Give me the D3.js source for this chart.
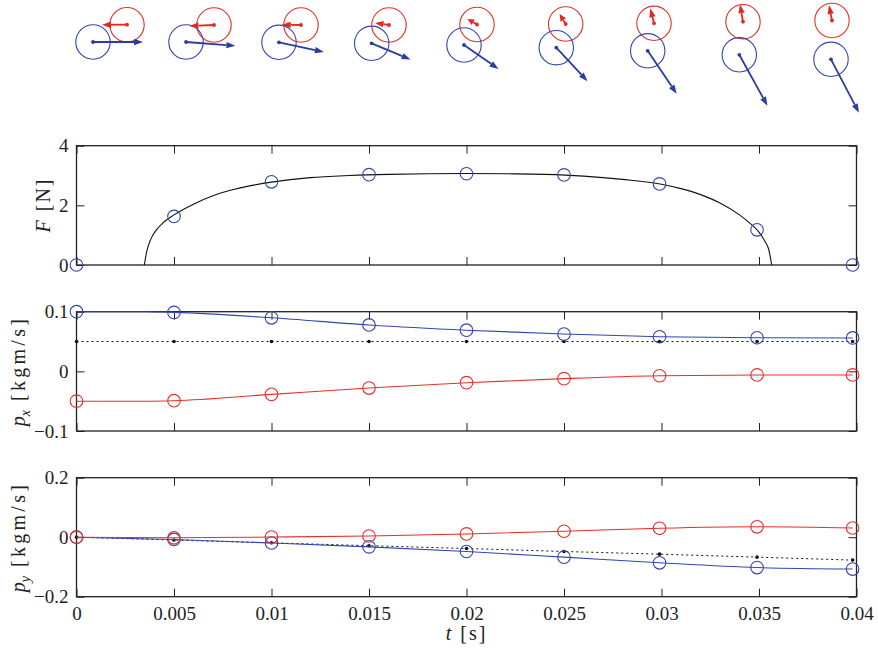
<!DOCTYPE html>
<html><head><meta charset="utf-8">
<script src="https://cdn.jsdelivr.net/npm/d3@7"></script>
<style>body{margin:0;background:#fff}</style>
</head><body><svg id="c" width="878" height="650"></svg>
<script>
// ---------- data ----------
const tTicks = [0, 0.005, 0.01, 0.015, 0.02, 0.025, 0.03, 0.035, 0.04];
const tSample = [0, 0.005, 0.01, 0.015, 0.02, 0.025, 0.0299, 0.0349, 0.0398];

// contact force curve
const forceT = [0.00348, 0.0036, 0.0038, 0.0041, 0.0045, 0.005, 0.006, 0.007, 0.008, 0.009, 0.010, 0.012, 0.014, 0.016, 0.018, 0.020, 0.022, 0.024, 0.026, 0.028, 0.030, 0.031, 0.032, 0.033, 0.034, 0.0345, 0.035, 0.0353, 0.0355, 0.03565];
const forceF = [0, 0.45, 0.85, 1.18, 1.45, 1.68, 2.04, 2.32, 2.52, 2.67, 2.78, 2.93, 3.0, 3.04, 3.06, 3.07, 3.06, 3.04, 2.98, 2.87, 2.71, 2.56, 2.36, 2.08, 1.68, 1.42, 1.1, 0.8, 0.52, 0];
const forceSample = [0, 1.63, 2.79, 3.03, 3.06, 3.02, 2.72, 1.18, 0];

// momenta at the sample times
const pxBlue = [0.1, 0.0988, 0.0898, 0.0778, 0.069, 0.0625, 0.058, 0.0563, 0.056];
const pxRed = [-0.05, -0.0492, -0.0386, -0.028, -0.019, -0.0122, -0.0074, -0.006, -0.006];
const pxTotal = [0.05, 0.05, 0.05, 0.05, 0.05, 0.05, 0.05, 0.05, 0.05];
const pyBlue = [0, -0.0076, -0.0195, -0.0325, -0.048, -0.067, -0.086, -0.102, -0.107];
const pyRed = [0, -0.002, 0.0005, 0.004, 0.011, 0.02, 0.03, 0.035, 0.031];
const pyTotal = [0, -0.0096, -0.019, -0.0285, -0.038, -0.048, -0.057, -0.067, -0.077];
const contactStart = 0.0035;

// ball positions for the snapshots (cm)
const blueX = [0, 9.3, 18.6, 27.87, 37.1, 46.33, 55.47, 64.63, 73.8];
const blueY = [0, 0, -0.03, -0.13, -0.3, -0.57, -0.88, -1.28, -1.73];
const redX = [3.4, 12.1, 20.8, 29.6, 38.4, 47.27, 56.1, 65.0, 73.9];
const redY = [1.73, 1.7, 1.7, 1.7, 1.75, 1.8, 1.87, 2.03, 2.15];
const ballRadius = 1.72;       // cm
const arrowScale = 50;         // cm per kg m/s

const yTicksF = [0, 2, 4];
const yTicksPx = [-0.1, 0, 0.1];
const yTicksPy = [-0.2, 0, 0.2];

// ---------- drawing ----------
const SERIF = '"Liberation Serif", Tinos, "Times New Roman", "Nimbus Roman", FreeSerif, "DejaVu Serif", serif';
const INK = "#222";
const BLUE = "#3346ad", BLUE_ARROW = "#2b3c9c", RED = "#e3302a", RED_ARROW = "#e02a20";
const svg = d3.select("#c");
const x = d3.scaleLinear().domain([0, 0.04]).range([76.5, 856.5]);
const fmt = d3.format("");

const panels = [
  {domain: [0, 4], range: [265, 145.7], ticks: yTicksF, labels: false},
  {domain: [-0.1, 0.1], range: [431, 311.7], ticks: yTicksPx, labels: false},
  {domain: [-0.2, 0.2], range: [596.7, 477.7], ticks: yTicksPy, labels: true}
];
panels.forEach(p => { p.y = d3.scaleLinear().domain(p.domain).range(p.range); });

function frame(p) {
  const g = svg.append("g");
  const [y0, y1] = p.range;
  g.append("g").attr("transform", `translate(0,${y0})`)
    .call(d3.axisBottom(x).tickValues(tTicks).tickSize(-8).tickSizeOuter(0).tickPadding(10)
      .tickFormat(p.labels ? fmt : ""));
  g.append("g").attr("transform", `translate(0,${y1})`)
    .call(d3.axisTop(x).tickValues(tTicks).tickSize(-8).tickSizeOuter(0).tickFormat(""));
  g.append("g").attr("transform", `translate(${x.range()[0]},0)`)
    .call(d3.axisLeft(p.y).tickValues(p.ticks).tickSize(-8).tickSizeOuter(0).tickPadding(8).tickFormat(fmt));
  g.append("g").attr("transform", `translate(${x.range()[1]},0)`)
    .call(d3.axisRight(p.y).tickValues(p.ticks).tickSize(-8).tickSizeOuter(0).tickFormat(""));
  g.selectAll(".domain").remove();
  g.selectAll("g").attr("font-family", SERIF).attr("font-size", 19);
  g.selectAll(".tick line").attr("stroke", INK).attr("stroke-width", 1);
  g.selectAll(".tick text").attr("fill", INK).attr("font-size", 19)
    .attr("font-family", SERIF).style("font-family", SERIF);
  g.append("rect").attr("x", x.range()[0]).attr("y", y1)
    .attr("width", x.range()[1] - x.range()[0]).attr("height", y0 - y1)
    .attr("fill", "none").attr("stroke", INK).attr("stroke-width", 1.3);
}
panels.forEach(frame);

function circles(p, vals, color) {
  svg.append("g").selectAll("circle").data(vals).join("circle")
    .attr("cx", (d, i) => x(tSample[i])).attr("cy", d => p.y(d)).attr("r", 6.3)
    .attr("fill", "none").attr("stroke", color).attr("stroke-width", 1.1);
}
function dotted(p, vals) {
  const line = d3.line().x((d, i) => x(tSample[i])).y(d => p.y(d));
  svg.append("path").attr("d", line(vals)).attr("fill", "none").attr("stroke", "#111")
    .attr("stroke-width", 1).attr("stroke-dasharray", "2,3");
  svg.append("g").selectAll("circle").data(vals).join("circle")
    .attr("cx", (d, i) => x(tSample[i])).attr("cy", d => p.y(d)).attr("r", 1.8).attr("fill", "#111");
}
function smooth(p, ts, vals, color) {
  const line = d3.line().curve(d3.curveMonotoneX).x((d, i) => x(ts[i])).y(d => p.y(d));
  svg.append("path").attr("d", line(vals)).attr("fill", "none").attr("stroke", color).attr("stroke-width", 1.1);
}

// F panel
smooth(panels[0], forceT, forceF, "#111");
circles(panels[0], forceSample, BLUE);

// px panel
const tPx = [0, contactStart].concat(tSample.slice(1));
dotted(panels[1], pxTotal);
smooth(panels[1], tPx, [pxBlue[0]].concat(pxBlue), BLUE);
circles(panels[1], pxBlue, BLUE);
smooth(panels[1], tPx, [pxRed[0]].concat(pxRed), RED);
circles(panels[1], pxRed, RED);

// py panel
dotted(panels[2], pyTotal);
smooth(panels[2], tSample, pyBlue, BLUE);
circles(panels[2], pyBlue, BLUE);
smooth(panels[2], tSample, pyRed, RED);
circles(panels[2], pyRed, RED);

// axis labels
function ylab(cx, cy, main, sub, unit, spacing) {
  const t = svg.append("text").attr("transform", `translate(${cx},${cy}) rotate(-90)`)
    .attr("text-anchor", "middle").attr("fill", INK)
    .attr("font-family", SERIF).style("font-family", SERIF).attr("font-size", 20);
  t.append("tspan").attr("font-style", "italic").text(main);
  if (sub) t.append("tspan").attr("font-style", "italic").attr("font-size", 14).attr("dy", 5).text(sub);
  t.append("tspan").attr("dx", 9).attr("dy", sub ? -5 : 0).attr("letter-spacing", spacing).text(unit);
}
ylab(50, 205, "F", null, "[N]", 2);
ylab(25, 371, "p", "x", "[kgm/s]", 3.3);
ylab(25, 537, "p", "y", "[kgm/s]", 3.3);
const xl = svg.append("text").attr("x", (x.range()[0] + x.range()[1]) / 2).attr("y", 640)
  .attr("text-anchor", "middle").attr("fill", INK)
  .attr("font-family", SERIF).style("font-family", SERIF).attr("font-size", 20);
xl.append("tspan").attr("font-style", "italic").text("t");
xl.append("tspan").attr("dx", 9).attr("letter-spacing", 2).text("[s]");

// snapshots of the two balls with momentum arrows
const tx = d3.scaleLinear().domain([0, 80]).range([93, 893]);
const ty = d3.scaleLinear().domain([0, 8]).range([42, -38]);
const rPx = tx(ballRadius) - tx(0);
const snap = svg.append("g");
function arrow(x0, y0, x1, y1, color) {
  const dx = x1 - x0, dy = y1 - y0, L = Math.hypot(dx, dy);
  const ux = dx / L, uy = dy / L, h = Math.min(9, L * 0.6), w = 3.2;
  const bx = x1 - ux * h, by = y1 - uy * h;
  snap.append("line").attr("x1", x0).attr("y1", y0).attr("x2", bx).attr("y2", by)
    .attr("stroke", color).attr("stroke-width", 1.8);
  snap.append("path").attr("d",
    `M${x1},${y1}L${bx - uy * w},${by + ux * w}L${bx + uy * w},${by - ux * w}Z`).attr("fill", color);
  snap.append("circle").attr("cx", x0).attr("cy", y0).attr("r", 1.9).attr("fill", color);
}
tSample.forEach((t, i) => {
  const rx = tx(redX[i]), ry = ty(redY[i]);
  const bx = tx(blueX[i]), by = ty(blueY[i]);
  snap.append("circle").attr("cx", rx).attr("cy", ry).attr("r", rPx)
    .attr("fill", "none").attr("stroke", RED).attr("stroke-width", 1.1);
  snap.append("circle").attr("cx", bx).attr("cy", by).attr("r", rPx)
    .attr("fill", "none").attr("stroke", BLUE).attr("stroke-width", 1.1);
  arrow(rx, ry, tx(redX[i] + pxRed[i] * arrowScale), ty(redY[i] + pyRed[i] * arrowScale), RED_ARROW);
  arrow(bx, by, tx(blueX[i] + pxBlue[i] * arrowScale), ty(blueY[i] + pyBlue[i] * arrowScale), BLUE_ARROW);
});
</script>
</body></html>
